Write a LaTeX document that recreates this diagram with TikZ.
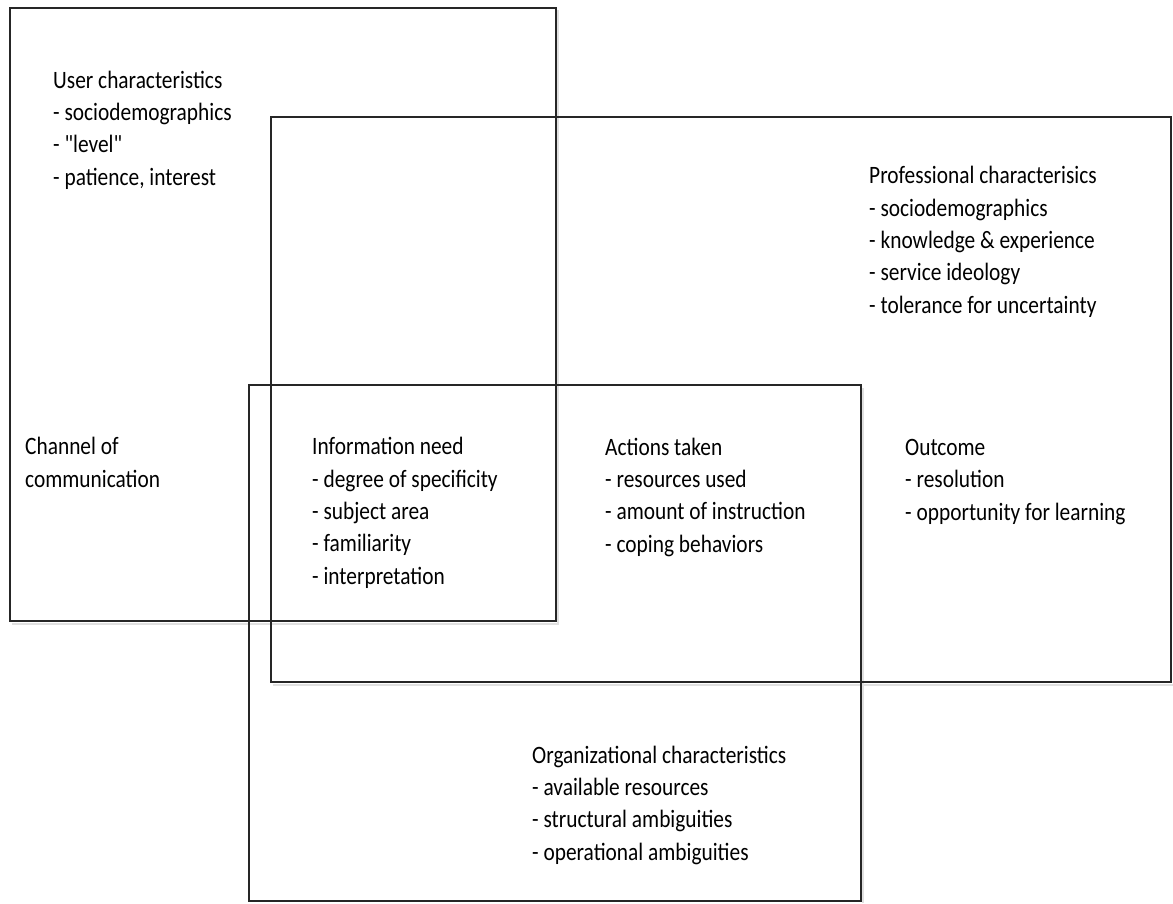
\documentclass[tikz,border=0pt]{standalone}
\usepackage{fontspec}
\setmainfont{Carlito}[FakeStretch=0.855, Ligatures=TeXOff]
\begin{document}
\begin{tikzpicture}[x=1pt,y=-1pt,
  box/.style={draw=black!85, line width=1.5pt},
  shade/.style={draw=black!12, line width=2pt},
  lbl/.style={anchor=base west, align=left, inner sep=0pt, font=\fontsize{25}{32.3}\selectfont, text=black}]
\useasboundingbox (0,0) rectangle (1173,903);
% shadows
\draw[shade] (12,624) -- (558,624) -- (558,10);
\draw[shade] (273,685) -- (1173,685);
\draw[shade] (863,388) -- (863,903);
% boxes
\draw[box] (10,8) rectangle (556,621);
\draw[box] (271,117) rectangle (1171,682);
\draw[box] (249,385) rectangle (861,901);
% texts (anchor at baseline of last line)
\node[lbl] (user) at (53,185) {User characteristics\\- sociodemographics\\- "level"\\- patience, interest};
\node[lbl] (prof) at (869,313) {Professional characterisics\\- sociodemographics\\- knowledge \& experience\\- service ideology\\- tolerance for uncertainty};
\node[lbl] (chan) at (25,487) {Channel of\\communication};
\node[lbl] (info) at (312,584) {Information need\\- degree of specificity\\- subject area\\- familiarity\\- interpretation};
\node[lbl] (act) at (605,552) {Actions taken\\- resources used\\- amount of instruction\\- coping behaviors};
\node[lbl] (out) at (905,520) {Outcome\\- resolution\\- opportunity for learning};
\node[lbl] (org) at (532,860) {Organizational characteristics\\- available resources\\- structural ambiguities\\- operational ambiguities};
\end{tikzpicture}
\end{document}
